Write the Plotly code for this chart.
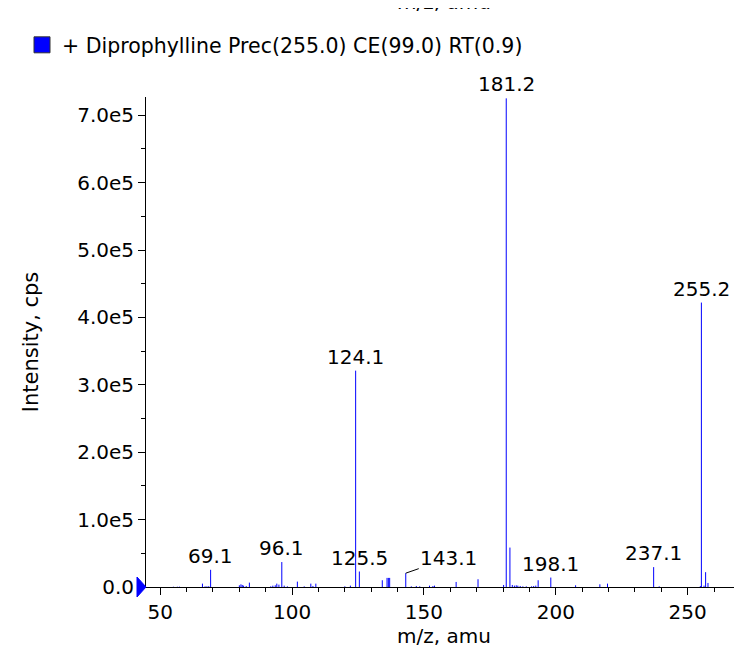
import plotly.graph_objects as go

# ---- data ----
peak_mz = [55.0, 56.5, 57.3, 66.0, 67.0, 67.7, 68.4, 69.1, 80.0, 80.6, 81.1, 81.6,
           82.6, 83.8, 91.9, 92.7, 93.6, 94.2, 95.0, 96.1, 97.0, 98.2, 102.0, 104.6,
           107.1, 107.9, 109.0, 120.0, 122.1, 124.1, 125.5, 134.2, 136.0, 136.5,
           137.0, 143.1, 145.2, 147.1, 148.4, 152.1, 153.4, 154.0, 162.2, 170.5,
           180.2, 181.2, 182.6, 183.5, 184.3, 185.0, 185.6, 186.5, 187.5, 188.8,
           190.8, 191.6, 192.4, 193.3, 198.1, 207.5, 216.7, 219.6, 237.1, 239.2,
           254.8, 255.2, 256.2, 256.8, 257.7]
peak_int = [400, 400, 500, 5000, 1000, 1000, 1200, 25500, 2500, 4000, 3000, 2000,
            1500, 6500, 1000, 2000, 2500, 5000, 3500, 37000, 2000, 1000, 8000, 1000,
            5000, 1500, 5000, 1000, 2000, 321000, 23000, 10000, 13500, 13500,
            13500, 20500, 1000, 1500, 1000, 2000, 1500, 2000, 7500, 11500,
            3000, 725000, 58500, 3000, 2000, 2500, 2000, 1500, 1000, 1000,
            1000, 1500, 2000, 10000, 14000, 2500, 4000, 5000, 29500, 1000,
            1500, 422000, 2000, 22000, 6000]
label_mz = [69.1, 96.1, 124.1, 125.5, 143.1, 181.2, 198.1, 237.1, 255.2]
y_tick_vals = [0, 100000, 200000, 300000, 400000, 500000, 600000, 700000]
y_tick_text = ["0.0", "1.0e5", "2.0e5", "3.0e5", "4.0e5", "5.0e5", "6.0e5", "7.0e5"]
x_tick_vals = [50, 100, 150, 200, 250]
legend_name = "+ Diprophylline Prec(255.0) CE(99.0) RT(0.9)"
x_title = "m/z, amu"
y_title = "Intensity, cps"

# ---- figure ----
FONT = "DejaVu Sans"
FS = 20
BLUE = "#0000ff"
L, R, T, B = 138, 8, 89, 66
W, H = 742, 645
PW, PH = W - L - R, H - T - B

def px_x(p):   # figure pixel x -> paper
    return (p - L) / PW

def px_y(p):   # figure pixel y -> paper
    return (H - B - p) / PH

xs, ys = [], []
for m, v in zip(peak_mz, peak_int):
    xs += [m, m, None]
    ys += [0, v, None]

fig = go.Figure()
fig.add_trace(go.Scatter(x=xs, y=ys, mode="lines", line=dict(color=BLUE, width=1),
                         showlegend=False, hoverinfo="skip"))
fig.add_trace(go.Scatter(x=[None], y=[None], mode="markers", name=legend_name,
                         marker=dict(symbol="square", size=16, color=BLUE,
                                     line=dict(color="#333333", width=1)),
                         showlegend=True))

lookup = dict(zip(peak_mz, peak_int))
for m in label_mz:
    if m == 143.1:
        fig.add_annotation(x=m, y=lookup[m], text=f"{m:.1f}", showarrow=True,
                           arrowhead=0, arrowwidth=1, arrowcolor="#000000",
                           ax=43, ay=-15, standoff=0,
                           font=dict(family=FONT, size=FS, color="#000000"))
    else:
        fig.add_annotation(x=m, y=lookup[m], text=f"{m:.1f}", showarrow=False,
                           yanchor="bottom", xanchor="center",
                           font=dict(family=FONT, size=FS, color="#000000"))

# cut-off duplicate axis title at the very top
fig.add_annotation(x=0.5, y=px_y(8), xref="paper", yref="paper", text=x_title,
                   showarrow=False, yanchor="bottom", xanchor="center",
                   font=dict(family=FONT, size=FS, color="#000000"))

# blue precursor marker on the y axis
fig.add_shape(type="path", xref="paper", yref="paper", xsizemode="pixel",
              ysizemode="pixel", xanchor=0, yanchor=0,
              path="M-9,10 L0,0 L-9,-10 Z", fillcolor=BLUE,
              line=dict(color=BLUE, width=1))

fig.update_layout(
    width=W, height=H,
    margin=dict(l=L, r=R, t=T, b=B, autoexpand=False),
    paper_bgcolor="white", plot_bgcolor="white",
    font=dict(family=FONT, size=FS, color="#000000"),
    showlegend=True,
    legend=dict(x=px_x(14), y=px_y(17), xanchor="left", yanchor="top",
                valign="top", bgcolor="rgba(0,0,0,0)",
                font=dict(family=FONT, size=20.5)),
    xaxis=dict(range=[44.6, 270.6], tickvals=x_tick_vals, showgrid=False,
               zeroline=False, showline=True, linecolor="black", linewidth=1,
               ticks="outside", ticklen=7, tickcolor="black",
               minor=dict(dtick=10, tick0=0, ticks="outside", ticklen=4,
                          tickcolor="black", showgrid=False),
               title=dict(text=x_title, standoff=0,
                          font=dict(family=FONT, size=FS))),
    yaxis=dict(range=[0, 727000], tickvals=y_tick_vals, ticktext=y_tick_text,
               showgrid=False, zeroline=False, showline=True, linecolor="black",
               linewidth=1, ticks="outside", ticklen=7, tickcolor="black",
               minor=dict(dtick=50000, tick0=0, ticks="outside", ticklen=4,
                          tickcolor="black", showgrid=False),
               title=dict(text=y_title, standoff=32,
                          font=dict(family=FONT, size=21))),
)

fig.write_html("out.html")
